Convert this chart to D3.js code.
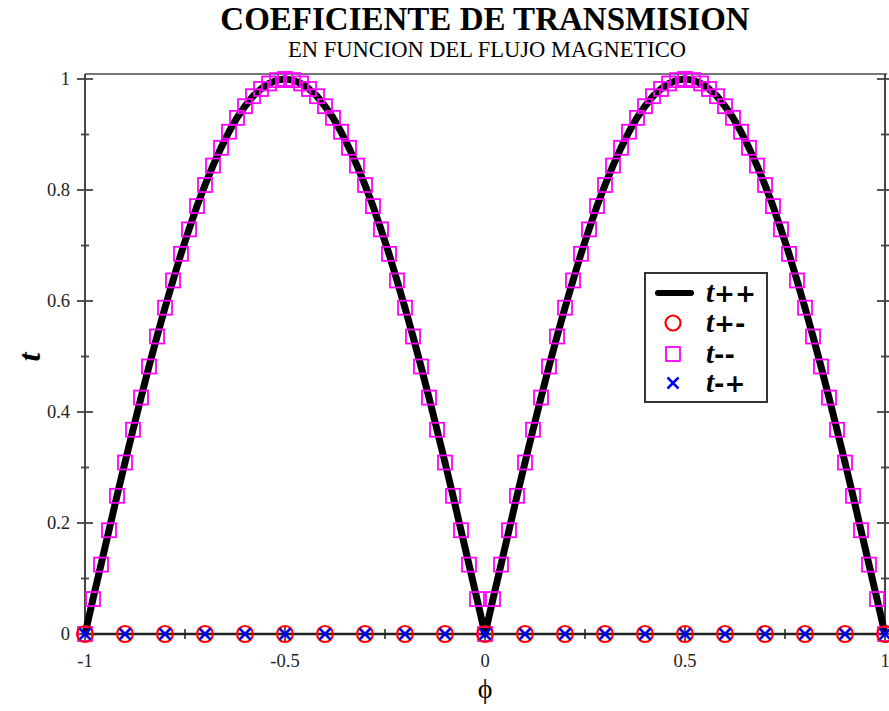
<!DOCTYPE html>
<html>
<head>
<meta charset="utf-8">
<script src="https://cdn.jsdelivr.net/npm/d3@7"></script>
<style>
  html, body { margin: 0; padding: 0; background: #fff; }
  svg { display: block; }
  text { font-family: "Liberation Serif", "Times New Roman", serif; }
</style>
</head>
<body>
<script>
// Magnetic flux samples for the fine series (t++ line, t-- squares)
const phiFine = [
  -1, -0.98, -0.96, -0.94, -0.92, -0.9, -0.88, -0.86, -0.84, -0.82,
  -0.8, -0.78, -0.76, -0.74, -0.72, -0.7, -0.68, -0.66, -0.64, -0.62,
  -0.6, -0.58, -0.56, -0.54, -0.52, -0.5, -0.48, -0.46, -0.44, -0.42,
  -0.4, -0.38, -0.36, -0.34, -0.32, -0.3, -0.28, -0.26, -0.24, -0.22,
  -0.2, -0.18, -0.16, -0.14, -0.12, -0.1, -0.08, -0.06, -0.04, -0.02,
  0, 0.02, 0.04, 0.06, 0.08, 0.1, 0.12, 0.14, 0.16, 0.18,
  0.2, 0.22, 0.24, 0.26, 0.28, 0.3, 0.32, 0.34, 0.36, 0.38,
  0.4, 0.42, 0.44, 0.46, 0.48, 0.5, 0.52, 0.54, 0.56, 0.58,
  0.6, 0.62, 0.64, 0.66, 0.68, 0.7, 0.72, 0.74, 0.76, 0.78,
  0.8, 0.82, 0.84, 0.86, 0.88, 0.9, 0.92, 0.94, 0.96, 0.98, 1
];

// t++ transmission coefficient
const tPlusPlus = [
  0, 0.063, 0.125, 0.187, 0.249, 0.309, 0.368, 0.426, 0.482, 0.536,
  0.588, 0.637, 0.685, 0.729, 0.771, 0.809, 0.844, 0.876, 0.905, 0.930,
  0.951, 0.969, 0.982, 0.992, 0.998, 1, 0.998, 0.992, 0.982, 0.969,
  0.951, 0.930, 0.905, 0.876, 0.844, 0.809, 0.771, 0.729, 0.685, 0.637,
  0.588, 0.536, 0.482, 0.426, 0.368, 0.309, 0.249, 0.187, 0.125, 0.063,
  0, 0.063, 0.125, 0.187, 0.249, 0.309, 0.368, 0.426, 0.482, 0.536,
  0.588, 0.637, 0.685, 0.729, 0.771, 0.809, 0.844, 0.876, 0.905, 0.930,
  0.951, 0.969, 0.982, 0.992, 0.998, 1, 0.998, 0.992, 0.982, 0.969,
  0.951, 0.930, 0.905, 0.876, 0.844, 0.809, 0.771, 0.729, 0.685, 0.637,
  0.588, 0.536, 0.482, 0.426, 0.368, 0.309, 0.249, 0.187, 0.125, 0.063, 0
];

// t-- transmission coefficient
const tMinusMinus = [
  0, 0.063, 0.125, 0.187, 0.249, 0.309, 0.368, 0.426, 0.482, 0.536,
  0.588, 0.637, 0.685, 0.729, 0.771, 0.809, 0.844, 0.876, 0.905, 0.930,
  0.951, 0.969, 0.982, 0.992, 0.998, 1, 0.998, 0.992, 0.982, 0.969,
  0.951, 0.930, 0.905, 0.876, 0.844, 0.809, 0.771, 0.729, 0.685, 0.637,
  0.588, 0.536, 0.482, 0.426, 0.368, 0.309, 0.249, 0.187, 0.125, 0.063,
  0, 0.063, 0.125, 0.187, 0.249, 0.309, 0.368, 0.426, 0.482, 0.536,
  0.588, 0.637, 0.685, 0.729, 0.771, 0.809, 0.844, 0.876, 0.905, 0.930,
  0.951, 0.969, 0.982, 0.992, 0.998, 1, 0.998, 0.992, 0.982, 0.969,
  0.951, 0.930, 0.905, 0.876, 0.844, 0.809, 0.771, 0.729, 0.685, 0.637,
  0.588, 0.536, 0.482, 0.426, 0.368, 0.309, 0.249, 0.187, 0.125, 0.063, 0
];

// Coarse flux samples for the cross-polarised channels
const phiCoarse = [-1, -0.9, -0.8, -0.7, -0.6, -0.5, -0.4, -0.3, -0.2, -0.1, 0,
                   0.1, 0.2, 0.3, 0.4, 0.5, 0.6, 0.7, 0.8, 0.9, 1];
const tPlusMinus = [0, 0, 0, 0, 0, 0, 0, 0, 0, 0, 0, 0, 0, 0, 0, 0, 0, 0, 0, 0, 0];
const tMinusPlus = [0, 0, 0, 0, 0, 0, 0, 0, 0, 0, 0, 0, 0, 0, 0, 0, 0, 0, 0, 0, 0];

// Axis ticks
const xMajorTicks = [-1, -0.5, 0, 0.5, 1];
const xTickLabels = ["-1", "-0.5", "0", "0.5", "1"];
const xMinorTicks = [-0.75, -0.25, 0.25, 0.75];
const yMajorTicks = [0, 0.2, 0.4, 0.6, 0.8, 1];
const yTickLabels = ["0", "0.2", "0.4", "0.6", "0.8", "1"];
const yMinorTicks = [0.1, 0.3, 0.5, 0.7, 0.9];

const legendLabels = ["t++", "t+-", "t--", "t-+"];

const W = 889, H = 711;
const left = 85, right = 885, bottom = 634, frameTop = 74;

const x = d3.scaleLinear().domain([-1, 1]).range([left, right]);
const y = d3.scaleLinear().domain([0, 1]).range([bottom, 79]);

const svg = d3.select("body").append("svg")
  .attr("width", W).attr("height", H);

// Titles
svg.append("text")
  .attr("x", 485).attr("y", 29.5)
  .attr("text-anchor", "middle")
  .attr("font-weight", "bold")
  .attr("font-size", 33)
  .text("COEFICIENTE DE TRANSMISION");
svg.append("text")
  .attr("x", 487).attr("y", 57)
  .attr("text-anchor", "middle")
  .attr("font-size", 22.5)
  .text("EN FUNCION DEL FLUJO MAGNETICO");

// Frame
const axisColor = "#444";
svg.append("line").attr("x1", left).attr("x2", right + 2)
  .attr("y1", frameTop).attr("y2", frameTop)
  .attr("stroke", "#777").attr("stroke-width", 2);
svg.append("line").attr("x1", left).attr("x2", left)
  .attr("y1", frameTop).attr("y2", bottom)
  .attr("stroke", axisColor).attr("stroke-width", 2);
svg.append("line").attr("x1", right).attr("x2", right)
  .attr("y1", frameTop).attr("y2", bottom)
  .attr("stroke", axisColor).attr("stroke-width", 2);

// Left / right y axes with ticks crossing the spine
function yAxis(g) {
  g.selectAll(".maj").data(yMajorTicks).join("line")
    .attr("x1", -8).attr("x2", 8)
    .attr("y1", d => y(d)).attr("y2", d => y(d))
    .attr("stroke", axisColor).attr("stroke-width", 1.8);
  g.selectAll(".min").data(yMinorTicks).join("line")
    .attr("x1", -4).attr("x2", 4)
    .attr("y1", d => y(d)).attr("y2", d => y(d))
    .attr("stroke", axisColor).attr("stroke-width", 1.8);
}
yAxis(svg.append("g").attr("transform", `translate(${left},0)`));
yAxis(svg.append("g").attr("transform", `translate(${right},0)`));

svg.append("g").selectAll("text").data(yMajorTicks).join("text")
  .attr("x", 70).attr("y", d => y(d) + 6)
  .attr("text-anchor", "end")
  .attr("font-size", 18.5)
  .attr("fill", "#222")
  .text((d, i) => yTickLabels[i]);

// Bottom axis
const xg = svg.append("g");
xg.selectAll(".maj").data(xMajorTicks).join("line")
  .attr("x1", d => x(d)).attr("x2", d => x(d))
  .attr("y1", bottom - 8).attr("y2", bottom + 8)
  .attr("stroke", axisColor).attr("stroke-width", 1.8);
xg.selectAll(".min").data(xMinorTicks).join("line")
  .attr("x1", d => x(d)).attr("x2", d => x(d))
  .attr("y1", bottom - 5).attr("y2", bottom + 5)
  .attr("stroke", axisColor).attr("stroke-width", 1.8);
xg.selectAll("text").data(xMajorTicks).join("text")
  .attr("x", d => x(d)).attr("y", 667)
  .attr("text-anchor", "middle")
  .attr("font-size", 18.5)
  .attr("fill", "#222")
  .text((d, i) => xTickLabels[i]);

// Axis titles
svg.append("text")
  .attr("transform", "translate(40,357) rotate(-90)")
  .attr("text-anchor", "middle")
  .attr("font-size", 32)
  .attr("font-weight", "bold")
  .attr("font-style", "italic")
  .text("t");
svg.append("text")
  .attr("x", 485).attr("y", 698)
  .attr("text-anchor", "middle")
  .attr("font-size", 28)
  .text("\u03D5");

// t++ curve
const fine = phiFine.map((p, i) => ({ p, pp: tPlusPlus[i], mm: tMinusMinus[i] }));
svg.append("path")
  .datum(fine)
  .attr("fill", "none")
  .attr("stroke", "#000")
  .attr("stroke-width", 7)
  .attr("stroke-linejoin", "round")
  .attr("d", d3.line().x(d => x(d.p)).y(d => y(d.pp)));

// baseline axis line at t = 0
svg.append("line").attr("x1", left).attr("x2", right)
  .attr("y1", bottom).attr("y2", bottom)
  .attr("stroke", "#222").attr("stroke-width", 2.5);

// t-- squares
const sq = 14;
svg.append("g").selectAll("rect").data(fine).join("rect")
  .attr("x", d => x(d.p) - sq / 2).attr("y", d => y(d.mm) - sq / 2)
  .attr("width", sq).attr("height", sq)
  .attr("fill", "none").attr("stroke", "#ff00ff").attr("stroke-width", 1.8);

// t+- circles and t-+ crosses
const coarse = phiCoarse.map((p, i) => ({ p, pm: tPlusMinus[i], mp: tMinusPlus[i] }));
svg.append("g").selectAll("circle").data(coarse).join("circle")
  .attr("cx", d => x(d.p)).attr("cy", d => y(d.pm)).attr("r", 8)
  .attr("fill", "none").attr("stroke", "#ff0000").attr("stroke-width", 2.2);

const cr = 5.5;
const crossPath = (cx, cy) => `M${cx - cr},${cy - cr}L${cx + cr},${cy + cr}M${cx - cr},${cy + cr}L${cx + cr},${cy - cr}`;
svg.append("g").selectAll("path").data(coarse).join("path")
  .attr("d", d => crossPath(x(d.p), y(d.mp)))
  .attr("stroke", "#0000ff").attr("stroke-width", 2.5).attr("fill", "none");

// Legend
const lg = svg.append("g").attr("transform", "translate(645,273)");
lg.append("rect").attr("width", 122).attr("height", 129)
  .attr("fill", "#fff").attr("stroke", "#333").attr("stroke-width", 2);
const rowY = [20, 50, 81, 110];
lg.append("line").attr("x1", 13).attr("x2", 46).attr("y1", rowY[0]).attr("y2", rowY[0])
  .attr("stroke", "#000").attr("stroke-width", 6).attr("stroke-linecap", "round");
lg.append("circle").attr("cx", 28).attr("cy", rowY[1]).attr("r", 7.5)
  .attr("fill", "none").attr("stroke", "#ff0000").attr("stroke-width", 2.2);
lg.append("rect").attr("x", 28 - 7).attr("y", rowY[2] - 7).attr("width", 14).attr("height", 14)
  .attr("fill", "none").attr("stroke", "#ff00ff").attr("stroke-width", 1.8);
lg.append("path").attr("d", crossPath(28, rowY[3]))
  .attr("stroke", "#0000ff").attr("stroke-width", 2.5).attr("fill", "none");
lg.selectAll("text.lab").data(legendLabels).join("text")
  .attr("class", "lab")
  .attr("x", 61).attr("y", (d, i) => rowY[i] + 9)
  .attr("font-size", 29).attr("font-weight", "bold")
  .each(function (d) {
    const t = d3.select(this);
    t.append("tspan").attr("font-style", "italic").text(d[0]);
    t.append("tspan").attr("font-family", "'DejaVu Sans', sans-serif").attr("font-size", 25).text(d.slice(1));
  });
</script>
</body>
</html>
